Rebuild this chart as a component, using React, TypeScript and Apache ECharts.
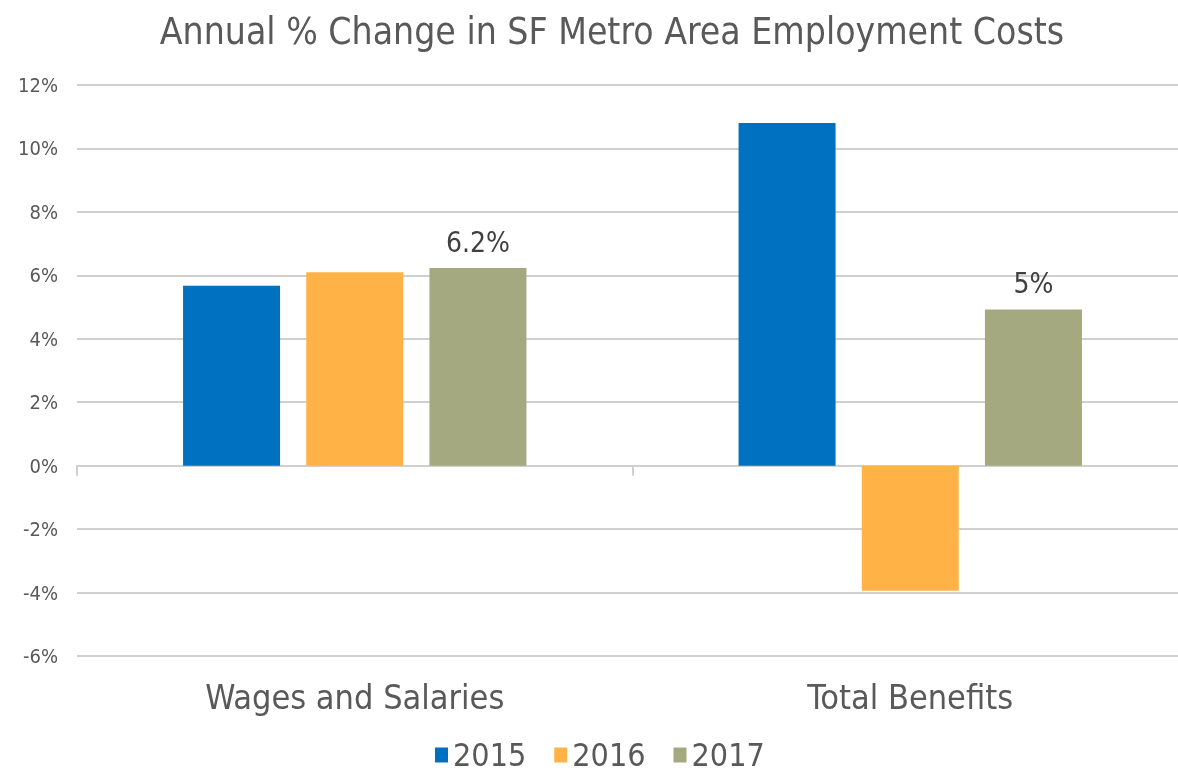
import React, { useEffect, useRef } from "react";
import * as echarts from "echarts";

const categories = ["Wages and Salaries", "Total Benefits"];
const seriesNames = ["2015", "2016", "2017"];
const values2015 = [5.67, 10.8];
const values2016 = [6.1, -3.94];
const values2017 = [6.23, 4.92];
const labels2017 = ["6.2%", "5%"];
const colors = ["#0070C0", "#FFB347", "#A4A97F"];

const FONT = "'DejaVu Sans Condensed', 'Liberation Sans Narrow', 'Open Sans', sans-serif";

export default function App() {
  const ref = useRef<HTMLDivElement>(null);
  useEffect(() => {
    if (!ref.current) return;
    document.body.style.overflow = "hidden";
    const chart = echarts.init(ref.current, undefined, { renderer: "svg" });
    const data = [values2015, values2016, values2017];
    chart.setOption({
      animation: false,
      textStyle: { fontFamily: FONT },
      title: {
        text: "Annual % Change in SF Metro Area Employment Costs",
        left: 607,
        textAlign: "center",
        top: 8,
        textStyle: { fontFamily: FONT, fontSize: 37, fontWeight: "normal", color: "#595959" },
      },
      legend: {
        data: seriesNames,
        left: 430,
        top: 733,
        itemWidth: 13,
        itemHeight: 15,
        itemGap: 28,
        icon: "rect",
        textStyle: { fontFamily: FONT, fontSize: 32, lineHeight: 34, color: "#595959" },
      },
      grid: { left: 77, top: 85, width: 1111, height: 571, containLabel: false },
      xAxis: [
        {
          type: "category",
          data: categories,
          axisLine: { onZero: true, lineStyle: { color: "#d0d0d0", width: 2 } },
          axisTick: { show: true, length: 10, lineStyle: { color: "#d0d0d0", width: 2 } },
          axisLabel: { show: false },
        },
        {
          type: "category",
          data: categories,
          position: "bottom",
          axisLine: { show: false },
          axisTick: { show: false },
          axisLabel: { margin: 24, fontFamily: FONT, fontSize: 34, color: "#595959" },
        },
      ],
      yAxis: {
        type: "value",
        min: -6,
        max: 12,
        interval: 2,
        axisLine: { show: false },
        axisTick: { show: false },
        axisLabel: {
          formatter: "{value}%",
          margin: 19,
          fontFamily: FONT,
          fontSize: 20,
          color: "#595959",
        },
        splitLine: { lineStyle: { color: "#d0d0d0", width: 2 } },
      },
      series: seriesNames.map((name, i) => ({
        name,
        type: "bar",
        xAxisIndex: 0,
        data: data[i],
        barWidth: 97,
        barGap: "27%",
        itemStyle: { color: colors[i] },
        label:
          i === 2
            ? {
                show: true,
                position: "top",
                distance: 12,
                formatter: (p: any) => labels2017[p.dataIndex],
                fontFamily: FONT,
                fontSize: 28,
                color: "#404040",
              }
            : { show: false },
      })),
    });
    return () => chart.dispose();
  }, []);
  return (
    <div style={{ position: "fixed", left: 0, top: 0, width: 1178, height: 776, overflow: "hidden" }}>
      <div ref={ref} style={{ width: 1190, height: 776 }} />
    </div>
  );
}
